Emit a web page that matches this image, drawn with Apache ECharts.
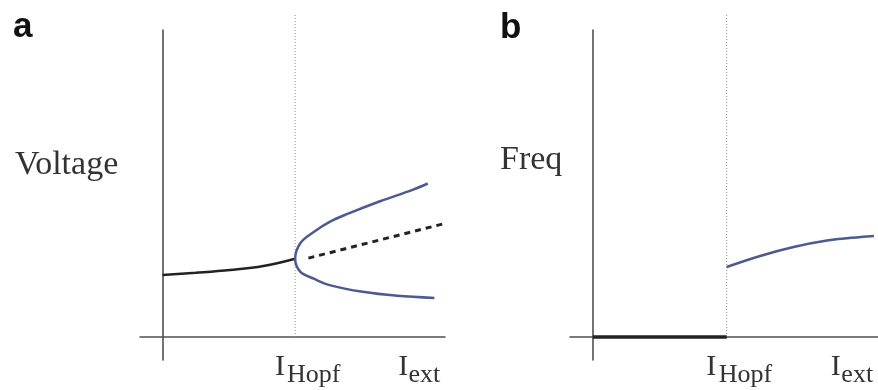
<!DOCTYPE html>
<html><head><meta charset="utf-8">
<script src="https://cdn.jsdelivr.net/npm/echarts@6/dist/echarts.min.js"></script>
<style>html,body{margin:0;padding:0;background:#fff}#c{width:878px;height:390px}</style>
</head><body><div id="c"></div>
<script>
// Panel a: voltage bifurcation diagram
const stableX = [0, 0.25, 0.51, 0.76, 1.0];
const stableY = [2.02, 2.09, 2.18, 2.31, 2.55];
// limit-cycle envelope: upper end -> Hopf point -> lower end
const cycleX = [2.0, 1.89, 1.64, 1.39, 1.26, 1.14, 1.04, 1.0, 1.04, 1.14, 1.26, 1.51, 1.77, 2.05];
const cycleY = [5.0, 4.8, 4.42, 4.0, 3.75, 3.42, 3.06, 2.55, 2.12, 1.9, 1.69, 1.47, 1.34, 1.27];
const unstableX = [1.1, 2.14];
const unstableY = [2.57, 3.71];
// Panel b: frequency
const freqZeroX = [0, 1];
const freqZeroY = [0, 0];
const freqX = [1.0, 1.25, 1.5, 1.75, 2.0, 2.1];
const freqY = [2.28, 2.64, 2.93, 3.14, 3.26, 3.29];
// markers / labels
const hopfX = 1;
const hopfTop = 10.5;
const mainTickValues = [0.885, 1.815];
const mainTickLabels = ['I', 'I'];
const subTickValues = [1.14, 1.975];
const subTickLabels = ['Hopf', 'ext'];
const yNames = ['Voltage', 'Freq'];
const panelLetters = ['a', 'b'];

const zip = (xs, ys) => xs.map((x, i) => [x, ys[i]]);
const blue = '#4c5a92';
const axisColor = '#505050';

function xAxisFor(idx, values, labels, size, margin, showLine) {
  return {
    type: 'value', gridIndex: idx, min: -0.17, max: 2.13, position: 'bottom',
    axisLine: { show: showLine, onZero: true, lineStyle: { color: axisColor, width: 1.6 } },
    axisTick: { show: false }, splitLine: { show: false },
    axisLabel: {
      customValues: values, margin: margin,
      formatter: function (v) { return labels[values.indexOf(v)]; },
      fontFamily: 'Liberation Serif', fontSize: size, color: '#333'
    }
  };
}
function yAxisFor(idx) {
  return {
    type: 'value', gridIndex: idx, min: -0.75, max: 10,
    axisLine: { onZero: true, lineStyle: { color: axisColor, width: 1.6 } },
    axisTick: { show: false }, splitLine: { show: false }, axisLabel: { show: false }
  };
}
function hopfLine(idx) {
  return {
    type: 'line', xAxisIndex: idx, yAxisIndex: idx, clip: false, symbol: 'none',
    data: [[hopfX, 0], [hopfX, hopfTop]], z: 1,
    lineStyle: { color: '#8a8a8a', width: 1, type: [1, 2] }
  };
}
const curve = (xs, ys, color, width, extra) => Object.assign({
  type: 'line', xAxisIndex: 0, yAxisIndex: 0, symbol: 'none', clip: false,
  data: zip(xs, ys), lineStyle: { color: color, width: width }
}, extra || {});

const chart = echarts.init(document.getElementById('c'), null, { renderer: 'canvas' });
chart.setOption({
  animation: false,
  backgroundColor: '#fff',
  grid: [
    { left: 140, width: 305, top: 30, bottom: 30, outerBoundsMode: 'none', containLabel: false },
    { left: 570, right: 0, top: 30, bottom: 30, outerBoundsMode: 'none', containLabel: false }
  ],
  xAxis: [
    xAxisFor(0, mainTickValues, mainTickLabels, 30, -8, true),
    xAxisFor(1, mainTickValues, mainTickLabels, 30, -8, true),
    xAxisFor(0, subTickValues, subTickLabels, 26, 2, false),
    xAxisFor(1, subTickValues, subTickLabels, 26, 2, false)
  ],
  yAxis: [yAxisFor(0), yAxisFor(1)],
  series: [
    hopfLine(0), hopfLine(1),
    curve(stableX, stableY, '#222', 2.5, { smooth: 0.4 }),
    curve(cycleX, cycleY, blue, 2.5, { smooth: 0.35 }),
    curve(unstableX, unstableY, '#222', 3, { lineStyle: { color: '#222', width: 3, type: [6, 5] } }),
    curve(freqZeroX, freqZeroY, '#222', 3.5, { xAxisIndex: 1, yAxisIndex: 1, z: 3 }),
    curve(freqX, freqY, blue, 2.5, { xAxisIndex: 1, yAxisIndex: 1, smooth: 0.4 })
  ],
  graphic: [
    { type: 'text', x: 13, y: 27, style: { text: panelLetters[0], font: 'bold 35px "Liberation Sans"', fill: '#111', textVerticalAlign: 'middle' } },
    { type: 'text', x: 500, y: 28, style: { text: panelLetters[1], font: 'bold 35px "Liberation Sans"', fill: '#111', textVerticalAlign: 'middle' } },
    { type: 'text', x: 15, y: 165, style: { text: yNames[0], font: '34px "Liberation Serif"', fill: '#333', textVerticalAlign: 'middle' } },
    { type: 'text', x: 500, y: 160, style: { text: yNames[1], font: '34px "Liberation Serif"', fill: '#333', textVerticalAlign: 'middle' } }
  ]
});
</script></body></html>
